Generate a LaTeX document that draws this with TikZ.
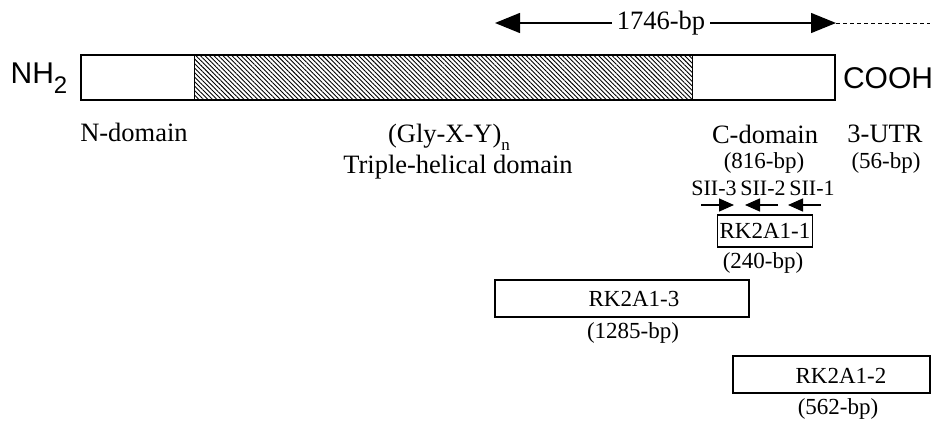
\documentclass[tikz,border=0pt]{standalone}
\usepackage{fontspec}
\setmainfont{Liberation Serif}
\setsansfont{Liberation Sans}
\usetikzlibrary{arrows.meta,patterns.meta}
\begin{document}
\begin{tikzpicture}[x=1pt,y=-1pt,
  big/.style={font=\fontsize{26.5}{29}\selectfont, inner sep=0pt},
  med/.style={font=\fontsize{23}{26}\selectfont, inner sep=0pt},
  small/.style={font=\fontsize{22}{25}\selectfont, inner sep=0pt},
  term/.style={font=\sffamily\fontsize{30}{33}\selectfont, inner sep=0pt},
  frame/.style={draw, line width=1.3pt},
  fragbox/.style={draw, line width=1.3pt, inner sep=0pt},
  bigtip/.style={-{Triangle[length=25pt,width=20pt]}, line width=1.3pt},
  smalltip/.style={-{Triangle[length=15pt,width=13pt]}, line width=1.4pt}
]
\useasboundingbox (0,0) rectangle (938,421);

% top length arrow
\node[big, inner sep=5pt] (len) at (661,23) {1746-bp};
\coordinate (lt) at (495,23);
\coordinate (rt) at (836,23);
\coordinate (dend) at (930,23);
\draw[bigtip] (len) -- (lt);
\draw[bigtip] (len) -- (rt);
\draw[dashed, dash pattern=on 4pt off 3pt, line width=1pt] (rt) -- (dend);

% main bar
\fill[pattern={Lines[angle=-45,distance=3.2pt,line width=0.9pt]}] (194,55) rectangle (692,100);
\draw[frame] (81,55) rectangle (835,100);
\draw[line width=1pt] (194,55) -- (194,100);
\draw[line width=1pt] (692,55) -- (692,100);

\node[term] (nh) at (39,78) {NH\raisebox{-0.35em}{\fontsize{24}{24}\selectfont 2}};
\node[term] (cooh) at (888,78) {COOH};

% domain labels
\node[big] (nd) at (134,132) {N-domain};
\node[big] (gly) at (449,137) {(Gly-X-Y)\raisebox{-0.3em}{\fontsize{17}{17}\selectfont n}};
\node[big] (tri) at (458,167) {Triple-helical domain};
\node[big] (cd) at (765,134) {C-domain};
\node[med] (cdl) at (764,163) {(816-bp)};
\node[big] (utr) at (885,134) {3-UTR};
\node[med] (utrl) at (886,163) {(56-bp)};

% primers
\node[small] (s3) at (714,188) {SII-3};
\node[small] (s2) at (763,188) {SII-2};
\node[small] (s1) at (812,188) {SII-1};
\coordinate (a1s) at (701,205); \coordinate (a1e) at (734,205);
\coordinate (a2s) at (778,205); \coordinate (a2e) at (745,205);
\coordinate (a3s) at (821,205); \coordinate (a3e) at (788,205);
\draw[smalltip] (a1s) -- (a1e);
\draw[smalltip] (a2s) -- (a2e);
\draw[smalltip] (a3s) -- (a3e);

% fragments
\node[fragbox, med, minimum width=95pt, minimum height=32pt] (r1) at (765,231) {RK2A1-1};
\node[med] (r1l) at (763,263) {(240-bp)};

\node[fragbox, minimum width=254pt, minimum height=37pt] (r3box) at (622,298.5) {};
\node[med] (r3) at (634,299) {RK2A1-3};
\node[med] (r3l) at (633,333) {(1285-bp)};

\node[fragbox, minimum width=197pt, minimum height=37pt] (r2box) at (831.5,374.5) {};
\node[med] (r2) at (841,376) {RK2A1-2};
\node[med] (r2l) at (838,409) {(562-bp)};
\end{tikzpicture}
\end{document}
